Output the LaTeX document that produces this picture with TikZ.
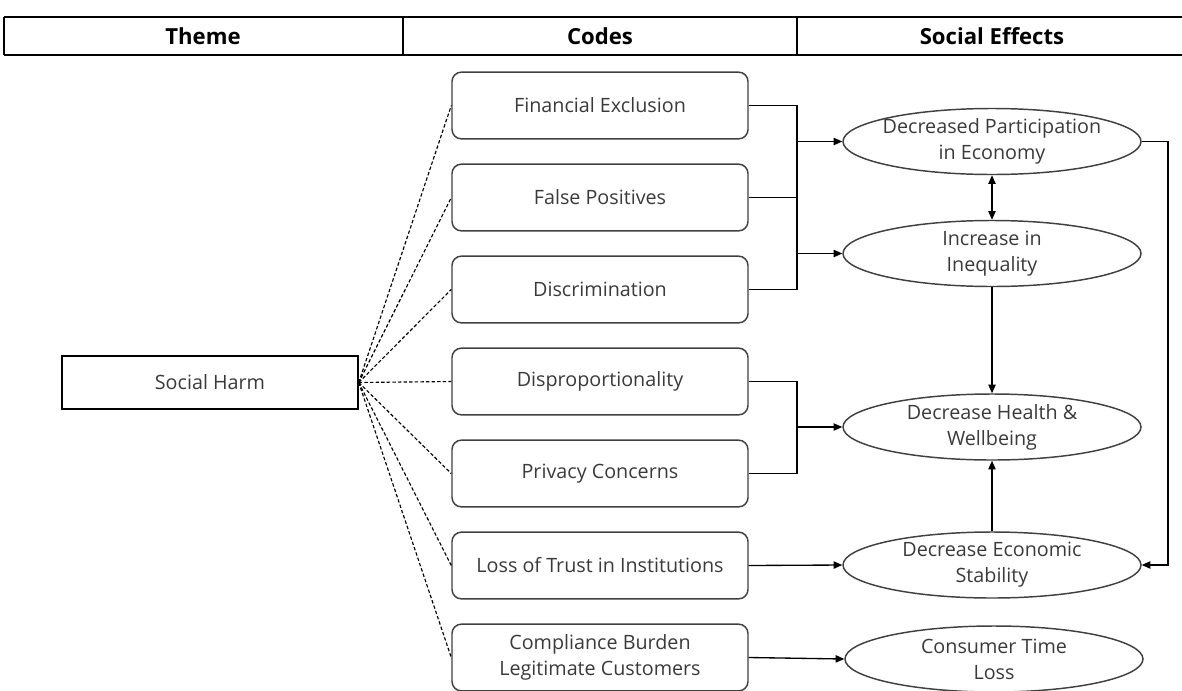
\documentclass[tikz,border=0pt]{standalone}
\usepackage{fontspec}
\setmainfont{Open Sans}
\usetikzlibrary{arrows.meta,shapes.geometric,calc}
\definecolor{ink}{HTML}{3A3A3A}
\definecolor{edge}{HTML}{404040}
\begin{document}
\begin{tikzpicture}[x=0.75pt,y=-0.75pt,
  txt/.style={font=\fontsize{14.8}{19.5}\selectfont, text=ink, align=center},
  hdr/.style={font=\fontsize{16.6}{19}\selectfont\bfseries, text=black},
  codebox/.style={txt, draw=edge, line width=1.1pt, rounded corners=7pt,
    minimum width=222pt, minimum height=50pt, inner sep=0pt},
  themebox/.style={txt, draw=black, line width=1.1pt,
    minimum width=222pt, minimum height=39.75pt, inner sep=0pt},
  effect/.style={txt, ellipse, draw=edge, line width=1.1pt,
    minimum width=223.5pt, minimum height=49.5pt, inner xsep=-40pt, inner ysep=-12pt},
  wire/.style={draw=black, line width=1pt},
  arr/.style={wire, -{Triangle[length=6.5pt,width=5.5pt]}},
  darr/.style={wire, {Triangle[length=6.5pt,width=5.5pt]}-{Triangle[length=6.5pt,width=5.5pt]}},
  link/.style={draw=black, line width=0.85pt, dash pattern=on 2.6pt off 1.6pt}]
\useasboundingbox (0,0) rectangle (1182,690);

% header row
\draw[line width=1.1pt] (4,17) -- (1182,17) (4,55) -- (1182,55)
  (4,17) -- (4,55) (403,17) -- (403,55) (797,17) -- (797,55);
\node[hdr] (hTheme) at (203,36) {Theme};
\node[hdr] (hCodes) at (600,36) {Codes};
\node[hdr] (hEffects) at (992,36) {Social Effects};

% theme
\node[themebox] (harm) at (210,382.5) {Social Harm};

% codes
\node[codebox] (b1) at (600,105.5) {Financial Exclusion};
\node[codebox] (b2) at (600,197.5) {False Positives};
\node[codebox] (b3) at (600,289.5) {Discrimination};
\node[codebox] (b4) at (600,381.5) {Disproportionality};
\node[codebox] (b5) at (600,473.5) {Privacy Concerns};
\node[codebox] (b6) at (600,565.5) {Loss of Trust in Institutions};
\node[codebox] (b7) at (600,657.5) {Compliance Burden\\Legitimate Customers};

% social effects
\node[effect] (e1) at (992,141.5) {Decreased Participation\\in Economy};
\node[effect] (e2) at (992,253.5) {Increase in\\Inequality};
\node[effect] (e3) at (992,427) {Decrease Health \&\\Wellbeing};
\node[effect] (e4) at (992,565) {Decrease Economic\\Stability};
\node[effect] (e5) at (994,659) {Consumer Time\\Loss};

% theme to codes
\foreach \b in {b1,b2,b3,b4,b5,b6,b7}
  \draw[link] (harm.east) -- (\b.west);

% merge bars
\coordinate (k1) at (797,0);
\draw[wire] (b1.east) -- (b1.east -| k1) -- (b3.east -| k1) -- (b3.east);
\draw[wire] (b2.east) -- (b2.east -| k1);
\draw[arr] (e1.west -| k1) -- (e1.west);
\draw[arr] (e2.west -| k1) -- (e2.west);

\draw[wire] (b4.east) -- (b4.east -| k1) -- (b5.east -| k1) -- (b5.east);
\draw[arr] (e3.west -| k1) -- (e3.west);

\draw[arr] (b6.east) -- (e4.west);
\draw[arr] (b7.east) -- (e5.west);

% links between effects
\draw[darr] (e1.south) -- (e2.north);
\draw[arr] (e2.south) -- (e3.north);
\draw[arr] (e4.north) -- (e3.south);

\coordinate (k2) at (1168,0);
\draw[arr] (e1.east) -- (e1.east -| k2) -- (e4.east -| k2) -- (e4.east);
\end{tikzpicture}
\end{document}
